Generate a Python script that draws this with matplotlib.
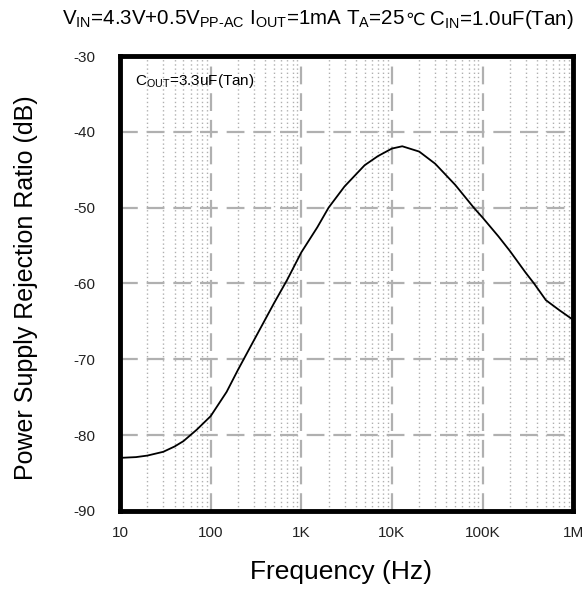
import numpy as np
import matplotlib
matplotlib.use("Agg")
import matplotlib.pyplot as plt
from matplotlib.ticker import FixedLocator, LogLocator, NullFormatter

plt.rcParams['font.family'] = ['Liberation Sans', 'DejaVu Sans']
plt.rcParams['mathtext.fontset'] = 'custom'
plt.rcParams['mathtext.rm'] = 'Liberation Sans'
plt.rcParams['axes.unicode_minus'] = False

# curve
freq = [10, 15, 20, 30, 40, 50, 70, 100, 150, 200, 300, 500, 700,
        1e3, 1.5e3, 2e3, 3e3, 5e3, 7e3, 1e4, 1.3e4, 2e4, 3e4, 5e4, 8e4,
        1e5, 1.5e5, 2e5, 3e5, 3.7e5, 5e5, 7e5, 1e6]
psrr = [-83.0, -82.9, -82.7, -82.2, -81.5, -80.8, -79.3, -77.5, -74.3, -71.4, -67.5, -62.6, -59.5,
        -55.9, -52.6, -50.0, -47.2, -44.4, -43.2, -42.2, -41.9, -42.6, -44.2, -47.0, -50.0,
        -51.3, -53.8, -55.7, -58.6, -60.0, -62.2, -63.5, -64.8]

xticks = [10, 100, 1e3, 1e4, 1e5, 1e6]
xlabels = ['10', '100', '1K', '10K', '100K', '1M']
yticks = [-90, -80, -70, -60, -50, -40, -30]

fig = plt.figure(figsize=(5.84, 5.90), dpi=100)
ax = fig.add_axes([0.2055, 0.134, 0.776, 0.771])

ax.plot(freq, psrr, color='black', lw=1.3, zorder=3)
ax.set_xscale('log')
ax.set_xlim(10, 1e6)
ax.set_ylim(-90, -30)

ax.xaxis.set_major_locator(FixedLocator(xticks))
ax.set_xticklabels(xlabels)
ax.xaxis.set_minor_locator(LogLocator(base=10, subs=np.arange(2, 10)))
ax.xaxis.set_minor_formatter(NullFormatter())
ax.set_yticks(yticks)
ax.tick_params(which='both', length=0, labelsize=11, colors='#222222')
ax.tick_params(axis='y', pad=18)
ax.tick_params(axis='x', pad=11)

# grid
ax.grid(which='major', axis='both', color='#b0b0b0', ls=(0, (8, 4)), lw=1.6)
ax.grid(which='minor', axis='x', color='#b0b0b0', ls=(0, (1, 2)), lw=1)

for s in ax.spines.values():
    s.set_linewidth(3.5)

ax.set_xlabel('Frequency (Hz)', fontsize=19)
ax.set_ylabel('Power Supply Rejection Ratio (dB)', fontsize=18)
ax.xaxis.set_label_coords(0.488, -0.108)
ax.yaxis.set_label_coords(-0.18, 0.49)

ax.text(0.033, 0.945, r'C$_{\mathregular{OUT}}$=3.3uF(Tan)', transform=ax.transAxes,
        fontsize=11, va='center', ha='left')

# title in three pieces so the degree-Celsius sign can use another font
ty = 0.958
t1 = fig.text(0.106, ty, r'V$_{\mathregular{IN}}$=4.3V+0.5V$_{\text{PP-AC}}$ I$_{\mathregular{OUT}}$=1mA '
              r'T$_{\mathregular{A}}$=25', fontsize=14.8, ha='left', va='baseline')
t2 = ax.annotate('℃', xy=(1, ty), xycoords=(t1, 'figure fraction'), fontsize=12.5,
                 family=['DejaVu Sans', 'Noto Sans CJK SC'], ha='left', va='baseline',
                 annotation_clip=False)
t3 = ax.annotate(r' C$_{\mathregular{IN}}$=1.0uF(Tan)', xy=(1, ty), xycoords=(t2, 'figure fraction'),
                 fontsize=14.8, ha='left', va='baseline', annotation_clip=False)

fig.savefig('out.png', dpi=100)
